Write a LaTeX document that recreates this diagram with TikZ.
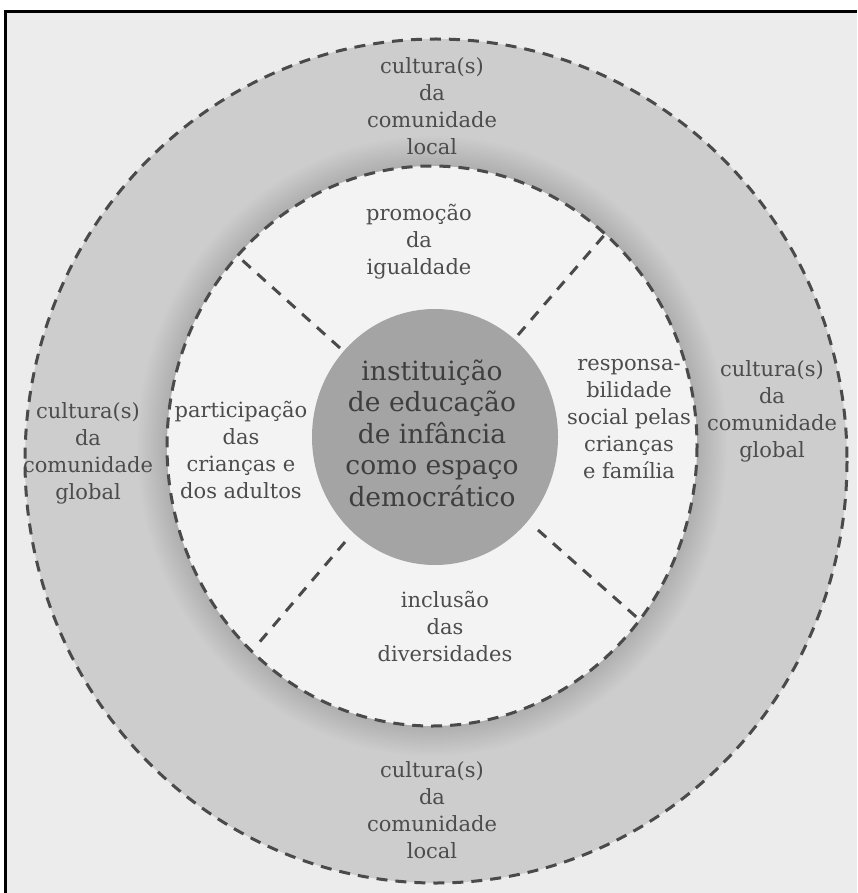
\documentclass[tikz,border=0pt]{standalone}
\usepackage{fontspec}
\setmainfont{DejaVu Serif}
\definecolor{bggray}{HTML}{ECECEC}
\definecolor{ringbase}{HTML}{CDCDCD}
\definecolor{innerwhite}{HTML}{F3F3F3}
\definecolor{ctrgray}{HTML}{A4A4A4}
\definecolor{linegray}{HTML}{4A4A4A}
\definecolor{txtgray}{HTML}{4C4C4C}
\definecolor{ctrtxt}{HTML}{3E3E3E}
\begin{document}
\begin{tikzpicture}[x=1pt,y=-1pt,
  ringline/.style={draw=linegray, line width=3pt, dash pattern=on 11pt off 8pt},
  spoke/.style={draw=linegray, line width=3pt, dash pattern=on 11pt off 9pt},
  lbl/.style={text=txtgray, align=center, inner sep=0pt, font=\fontsize{21}{27}\selectfont},
  ctr/.style={text=ctrtxt, align=center, inner sep=0pt, font=\fontsize{26.5}{31.5}\selectfont}]
\useasboundingbox (0,0) rectangle (857,893);
\fill[white] (0,0) rectangle (857,893);
\fill[bggray] (5,12) rectangle (857,893);
\draw[black, line width=3pt] (5,893) -- (5,12) -- (857,12);
% outer ring with soft shadow near the inner disc
\fill[ringbase] (436,461) ellipse [x radius=411, y radius=422];
\begin{scope}
  \clip (436,461) ellipse [x radius=411, y radius=422];
  \foreach \d in {2,4,...,30}
    \fill[black, opacity=0.007] (432,446) ellipse [x radius=265+\d, y radius=280+\d];
\end{scope}
\draw[ringline] (436,461) ellipse [x radius=411, y radius=422];
% inner disc
\fill[innerwhite] (432,446) ellipse [x radius=265, y radius=280];
\draw[ringline] (432,446) ellipse [x radius=265, y radius=280];
% core
\fill[ctrgray] (435,437) ellipse [x radius=123, y radius=128];
% spokes
\coordinate (nwo) at (242,260); \coordinate (nwi) at (340,348);
\coordinate (neo) at (607,232); \coordinate (nei) at (518,335);
\coordinate (swo) at (257,645); \coordinate (swi) at (345,542);
\coordinate (seo) at (642,622); \coordinate (sei) at (538,530);
\draw[spoke] (nwi) -- (nwo);
\draw[spoke] (nei) -- (neo);
\draw[spoke] (swi) -- (swo);
\draw[spoke] (sei) -- (seo);
% labels
\node[ctr] (core) at (432,433) {instituição\\de educação\\de infância\\como espaço\\democrático};
\node[lbl] (toplocal) at (432,106) {cultura(s)\\da\\comunidade\\local};
\node[lbl] (botlocal) at (432,810) {cultura(s)\\da\\comunidade\\local};
\node[lbl] (leftglobal) at (88,453) {cultura(s)\\da\\comunidade\\global};
\node[lbl] (rightglobal) at (772,411) {cultura(s)\\da\\comunidade\\global};
\node[lbl] (igual) at (419,242) {promoção\\da\\igualdade};
\node[lbl] (divers) at (445,626) {inclusão\\das\\diversidades};
\node[lbl] (partic) at (241,450) {participação\\das\\crianças e\\dos adultos};
\node[lbl] (resp) at (629,419) {responsa-\\bilidade\\social pelas\\crianças\\e família};
\end{tikzpicture}
\end{document}
